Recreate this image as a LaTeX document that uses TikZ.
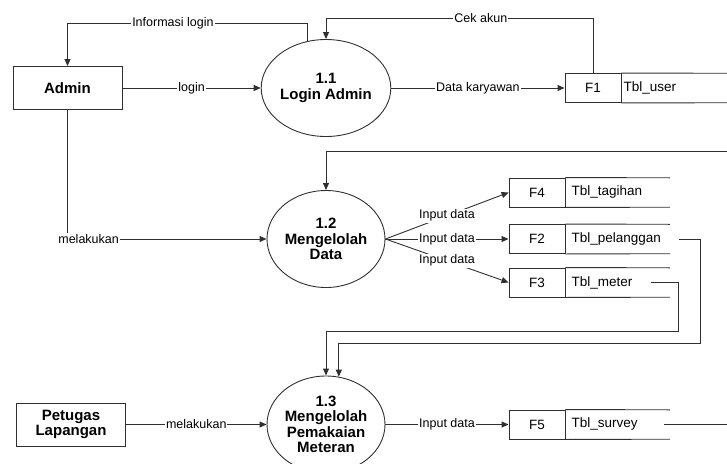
\documentclass[tikz,border=0pt]{standalone}
\usepackage{fontspec}
\setmainfont{Liberation Sans}
\usepackage{tikz}
\usetikzlibrary{arrows.meta,positioning,shapes.geometric}
\definecolor{DfdLine}{HTML}{303030}
\tikzset{
  process/.style={draw=DfdLine, line width=0.9pt, ellipse, inner sep=0pt,
    minimum width=118pt, minimum height=97pt, align=center,
    font=\fontsize{15}{15.5}\selectfont\bfseries},
  entity/.style={draw=DfdLine, line width=0.9pt, rectangle, align=center,
    minimum width=109pt, minimum height=43pt,
    font=\fontsize{15}{15.5}\selectfont\bfseries},
  storeid/.style={draw=DfdLine, line width=0.9pt, inner sep=0pt,
    minimum width=56pt, minimum height=29pt, font=\fontsize{13.5}{15}\selectfont},
  storename/.style={text width=92pt, inner xsep=6pt, inner ysep=2pt, minimum height=29pt,
    align=left, font=\fontsize{13.5}{15}\selectfont},
  storeline/.style={draw=DfdLine, line width=0.9pt},
  wire/.style={-{Triangle[length=7pt,width=6pt]}, draw=DfdLine, line width=0.9pt},
  labelbox/.style={fill=white, inner sep=1pt, font=\fontsize{12.5}{14}\selectfont}
}
\begin{document}
\begin{tikzpicture}[x=1pt, y=-1pt]
  \path[use as bounding box, clip] (0,0) rectangle (727,463);
  \node[entity] (admin) at (67.5,88) {Admin};
  \node[entity] (petugas) at (71,424.5) {Petugas\\Lapangan};
  \node[process] (p11) at (326,88) {1.1\\Login Admin};
  \node[process] (p12) at (326,239) {1.2\\Mengelolah\\Data};
  \node[process] (p13) at (326,424.5) {1.3\\Mengelolah\\Pemakaian\\Meteran};
  \node[storeid] (f1) at (593,88) {F1};
  \node[storeid] (f4) at (537,192.5) {F4};
  \node[storeid] (f2) at (537,239) {F2};
  \node[storeid] (f3) at (537,282.5) {F3};
  \node[storeid] (f5) at (537,424.5) {F5};
  \node[storename, right=0pt of f1, text width=116pt, inner xsep=2pt] (f1t) {Tbl\_user};
  \node[storename, right=0pt of f4] (f4t) {Tbl\_tagihan};
  \node[storename, right=0pt of f2] (f2t) {Tbl\_pelanggan};
  \node[storename, right=0pt of f3] (f3t) {Tbl\_meter};
  \node[storename, right=0pt of f5] (f5t) {Tbl\_survey};
  \draw[storeline] (f1.north east) -- (f1t.north east) (f1.south east) -- (f1t.south east);
  \draw[storeline] (f4.north east) -- (f4t.north east) (f4.south east) -- (f4t.south east);
  \draw[storeline] (f2.north east) -- (f2t.north east) (f2.south east) -- (f2t.south east);
  \draw[storeline] (f3.north east) -- (f3t.north east) (f3.south east) -- (f3t.south east);
  \draw[storeline] (f5.north east) -- (f5t.north east) (f5.south east) -- (f5t.south east);
  \coordinate (in12) at (730,151);
  \coordinate (out5) at (730,424.5);
  \draw[wire] (p11.112) -- ++(0,-18) -| node[labelbox, pos=0.28]{Informasi login} (admin.north);
  \draw[wire] (admin) -- node[labelbox]{login} (p11);
  \draw[wire] (f1.north) -- ++(0,-55) -| node[labelbox, pos=0.21]{Cek akun} (p11.north);
  \draw[wire] (p11) -- node[labelbox]{Data karyawan} (f1);
  \draw[wire] (admin.south) |- node[labelbox, pos=0.553]{melakukan} (p12.west);
  \draw[wire] (in12) -| (p12.north);
  \draw[wire] (p12.east) -- node[labelbox]{Input data} (f4.west);
  \draw[wire] (p12.east) -- node[labelbox]{Input data} (f2.west);
  \draw[wire] (p12.east) -- node[labelbox]{Input data} (f3.west);
  \draw[wire] ([xshift=9pt]f2t.east) -- ++(22,0) -- ++(0,104) -| (p13.75);
  \draw[wire] ([xshift=-19pt]f3t.east) -- ++(28,0) -- ++(0,48.5) -| (p13.north);
  \draw[wire] (petugas) -- node[labelbox]{melakukan} (p13);
  \draw[wire] (p13) -- node[labelbox]{Input data} (f5);
  \draw[storeline] ([xshift=-6pt]f5t.east) -- (out5);
\end{tikzpicture}
\end{document}
